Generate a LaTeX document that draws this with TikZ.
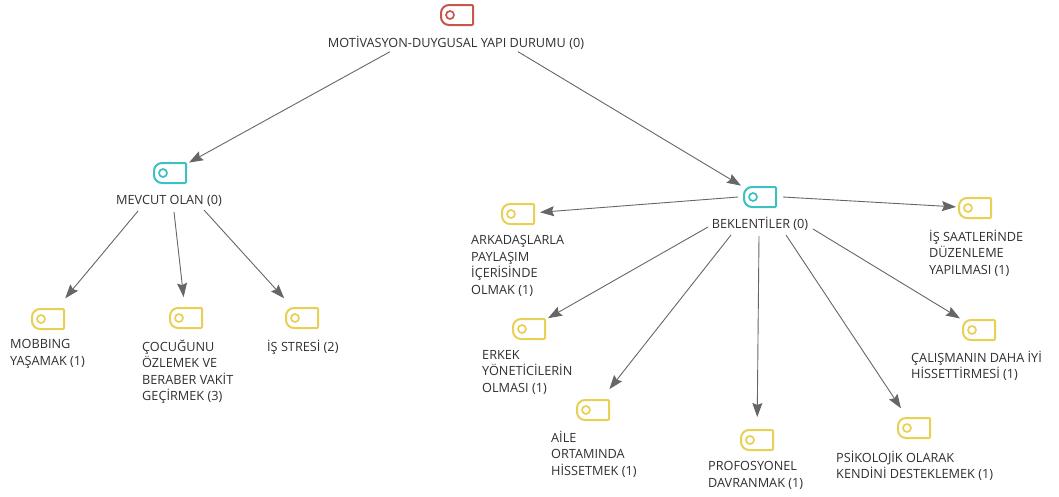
\documentclass[tikz,border=0pt]{standalone}
\usepackage{fontspec}
\setmainfont{Open Sans}
\usepackage{tikz}
\usetikzlibrary{calc}
\usetikzlibrary{arrows.meta}
\definecolor{tagred}{HTML}{C4594B}
\definecolor{tagcyan}{HTML}{3DBFC4}
\definecolor{tagyellow}{HTML}{E8D054}
\definecolor{inkgray}{HTML}{303030}
\definecolor{linkgray}{HTML}{666666}
\begin{document}
\begin{tikzpicture}[x=1pt,y=-1pt]
\tikzstyle{tagbox}=[rectangle,minimum width=32pt,minimum height=20pt,inner sep=0pt,outer sep=3pt]
\tikzstyle{tagline}=[line width=2pt,rounded corners=8pt]
\tikzstyle{caption}=[align=left,anchor=north west,inner sep=0pt,text=inkgray,font=\fontsize{12.7}{16.5}\selectfont,execute at begin node=\rule{0pt}{10pt}]
\tikzstyle{link}=[-{Stealth[length=14pt,width=10pt,inset=2pt]},line width=0.9pt,draw=linkgray]
\useasboundingbox (0,0) rectangle (1059,496);
% icons
\foreach \name/\x/\y/\col in {root/457/15/tagred,mevcut/170/173/tagcyan,beklenti/760/197/tagcyan,
    mobbing/48/319/tagyellow,cocuk/186/318/tagyellow,stres/302/318/tagyellow,
    arkadas/518/214/tagyellow,saat/975/208/tagyellow,erkek/529/329/tagyellow,
    aile/593/410/tagyellow,profesyonel/757/440/tagyellow,psikolojik/914/428/tagyellow,
    calisma/979/330/tagyellow}{
  \node[tagbox] at(\x, \y) (\name) {};
  \draw[tagline,draw=\col,shift={(\x,\y)}] (16,-10) -- (-16,-10) -- (-16,10) [rounded corners=1pt] -- (16,10) -- cycle;
  \draw[draw=\col,line width=1.7pt,shift={(\x,\y)}] (-7,0) circle (4pt);
}
% labels
\node[caption,anchor=center] at(456, 42.7) (rootlabel) {MOTİVASYON-DUYGUSAL YAPI DURUMU (0)};
\node[caption,anchor=center] at(169, 200) (mevcutlabel) {MEVCUT OLAN (0)};
\node[caption,anchor=center] at(760, 224) (beklentilabel) {BEKLENTİLER (0)};
\node[caption] at(10, 339.5) (mobbinglabel) {MOBBING\\YAŞAMAK (1)};
\node[caption] at(142, 339.5) (cocuklabel) {ÇOCUĞUNU\\ÖZLEMEK VE\\BERABER VAKİT\\GEÇİRMEK (3)};
\node[caption] at(267, 339.5) (streslabel) {İŞ STRESİ (2)};
\node[caption] at(471, 235.5) (arkadaslabel) {ARKADAŞLARLA\\PAYLAŞIM\\İÇERİSİNDE\\OLMAK (1)};
\node[caption] at(929, 229.5) (saatlabel) {İŞ SAATLERİNDE\\DÜZENLEME\\YAPILMASI (1)};
\node[caption] at(482, 350) (erkeklabel) {ERKEK\\YÖNETİCİLERİN\\OLMASI (1)};
\node[caption] at(551, 430.5) (ailelabel) {AİLE\\ORTAMINDA\\HİSSETMEK (1)};
\node[caption] at(708, 461.5) (profesyonellabel) {PROFOSYONEL\\DAVRANMAK (1)};
\node[caption] at(836, 450.5) (psikolojiklabel) {PSİKOLOJİK OLARAK\\KENDİNİ DESTEKLEMEK (1)};
\node[caption] at(911, 350.5) (calismalabel) {ÇALIŞMANIN DAHA İYİ\\HİSSETTİRMESİ (1)};
% connectors
\draw[link] ([xshift=-66pt,yshift=-9pt]rootlabel.center) -- (mevcut);
\draw[link] ([xshift=62pt,yshift=-9pt]rootlabel.center) -- (beklenti);
\draw[link,shorten >=10pt] ([xshift=-31pt,yshift=-11pt]mevcutlabel.center) -- (mobbing);
\draw[link,shorten >=8pt] ([xshift=5pt,yshift=-12pt]mevcutlabel.center) -- (cocuk);
\draw[link,shorten >=9pt] ([xshift=35pt,yshift=-10pt]mevcutlabel.center) -- (stres);
\draw[link,shorten >=3pt] ([xshift=-22pt]beklenti.center) -- (arkadas);
\draw[link] ([xshift=23pt]beklenti.center) -- (saat);
\draw[link] ([xshift=-52pt,yshift=-3pt]beklentilabel.center) -- (erkek);
\draw[link,shorten >=10pt] ([xshift=-29pt,yshift=-11pt]beklentilabel.center) -- (aile);
\draw[link,shorten >=10pt] ([xshift=-1pt,yshift=-12pt]beklentilabel.center) -- (profesyonel);
\draw[link,shorten >=8pt] ([xshift=26pt,yshift=-11pt]beklentilabel.center) -- (psikolojik);
\draw[link] ([xshift=53pt,yshift=-5pt]beklentilabel.center) -- (calisma);
\end{tikzpicture}
\end{document}
